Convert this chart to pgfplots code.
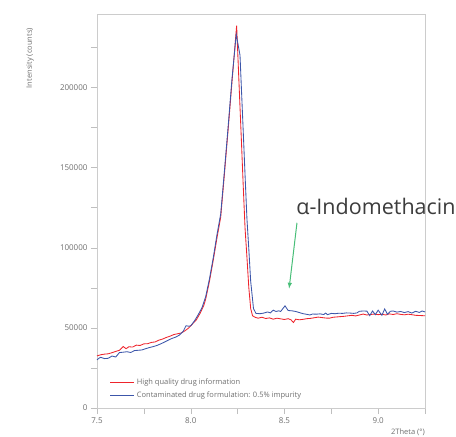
\documentclass[border=0pt]{standalone}
\usepackage{fontspec}
\setmainfont{Open Sans}
\usepackage{pgfplots}
\pgfplotsset{compat=1.18}
\definecolor{hqred}{RGB}{238,36,44}
\definecolor{cblue}{RGB}{60,86,170}
\definecolor{arrowgreen}{RGB}{72,190,120}
\definecolor{ticktext}{RGB}{110,110,110}
\definecolor{annot}{RGB}{60,60,60}
\begin{document}
\begin{tikzpicture}
\begin{axis}[
  scale only axis,
  width=328pt, height=394pt,
  xmin=7.5, xmax=9.25,
  ymin=0, ymax=245700,
  xtick={7.5,8,8.5,9},
  xticklabels={7.5,8.0,8.5,9.0},
  minor xtick={7.75,8.25,8.75,9.25},
  ytick={0,50000,100000,150000,200000},
  yticklabels={0,50000,100000,150000,200000},
  minor ytick={25000,75000,125000,175000,225000},
  scaled ticks=false,
  tick pos=left,
  tick align=outside,
  major tick length=6pt, minor tick length=6pt,
  tick style={gray!50},
  axis line style={gray!40},
  ticklabel style={font=\fontsize{8}{9}\selectfont, text=ticktext},
  clip=false,
  legend style={at={(rel axis cs:0.03,0.012)}, anchor=south west, draw=none, fill=none,
    font=\fontsize{7.5}{9}\selectfont, row sep=2pt},
  legend cell align=left,
  legend image code/.code={\draw[#1] (0pt,0pt) -- (24pt,0pt);},
]
\addplot[color=hqred, line width=0.85pt] coordinates {
(7.50,32500)(7.52,33200)(7.54,33600)(7.56,33800)(7.58,34500)(7.60,35300)
(7.62,36000)(7.64,38300)(7.655,37000)(7.67,38200)(7.69,38000)(7.71,39200)
(7.73,39000)(7.75,40000)(7.77,40100)(7.79,40900)(7.81,41200)(7.83,42300)
(7.85,43000)(7.87,44000)(7.89,44800)(7.91,45800)(7.93,46300)(7.95,46800)
(7.97,48200)(7.99,50000)(8.01,52500)(8.03,55000)(8.05,59000)(8.07,64000)
(8.08,68000)(8.10,79000)(8.12,92000)(8.14,106000)(8.16,119000)(8.18,146000)
(8.20,174000)(8.22,203000)(8.245,238500)(8.26,196000)(8.27,168000)(8.28,139000)
(8.29,112000)(8.30,94000)(8.31,75000)(8.32,62000)(8.33,57500)(8.345,56500)
(8.36,56000)(8.38,56600)(8.40,55800)(8.42,56200)(8.44,55400)(8.46,56000)
(8.48,55600)(8.50,55200)(8.52,55700)(8.535,55000)(8.548,53300)(8.56,55400)
(8.58,55000)(8.60,55300)(8.62,55700)(8.64,55900)(8.66,56300)(8.68,56700)
(8.70,56400)(8.72,56100)(8.74,56000)(8.76,56600)(8.78,56800)(8.80,57000)
(8.82,57200)(8.84,57500)(8.86,57800)(8.88,57400)(8.90,58000)(8.92,58600)
(8.94,58000)(8.96,58300)(8.98,58600)(9.00,58200)(9.02,58500)(9.04,58000)
(9.06,58700)(9.08,58300)(9.10,58800)(9.12,58400)(9.14,58100)(9.16,58500)
(9.18,58200)(9.20,57800)(9.22,57700)(9.25,57500)
};
\addlegendentry{\textcolor{ticktext}{High quality drug information}}
\addplot[color=cblue, line width=0.85pt] coordinates {
(7.50,30000)(7.51,31000)(7.52,31600)(7.54,30800)(7.56,31000)(7.58,32400)
(7.60,31800)(7.62,34600)(7.64,34800)(7.66,35100)(7.68,34600)(7.70,35800)
(7.72,36000)(7.74,36200)(7.76,37000)(7.78,37700)(7.80,38300)(7.82,39000)
(7.84,40000)(7.86,41100)(7.88,42300)(7.90,43400)(7.92,44200)(7.94,45500)
(7.96,47800)(7.975,51300)(7.99,51000)(8.00,51200)(8.02,54300)(8.04,58200)
(8.06,62500)(8.08,69500)(8.10,80500)(8.12,93500)(8.14,108000)(8.16,121000)
(8.18,148000)(8.20,176000)(8.22,205000)(8.243,233000)(8.263,220000)(8.28,173000)
(8.29,145000)(8.30,118000)(8.31,99000)(8.32,79000)(8.335,62000)(8.348,59000)
(8.37,58800)(8.39,59200)(8.41,59900)(8.425,59300)(8.44,61000)(8.455,60200)
(8.47,60600)(8.48,60200)(8.503,63700)(8.52,60800)(8.54,60600)(8.56,60200)
(8.58,59500)(8.60,58800)(8.62,58400)(8.636,58000)(8.65,58600)(8.67,58500)
(8.69,58700)(8.71,58300)(8.72,59200)(8.73,58200)(8.75,59000)(8.77,58800)
(8.79,59100)(8.81,59000)(8.83,59300)(8.85,59200)(8.87,59000)(8.887,59300)
(8.90,60300)(8.92,60500)(8.94,60400)(8.955,57600)(8.97,60500)(8.985,58200)
(9.00,61000)(9.02,57800)(9.035,61800)(9.05,58400)(9.065,60300)(9.08,60500)
(9.10,59800)(9.12,60200)(9.14,59500)(9.16,60100)(9.18,59200)(9.20,60300)
(9.22,59600)(9.235,60500)(9.25,59900)
};
\addlegendentry{\textcolor{ticktext}{Contaminated drug formulation: 0.5\% impurity}}
\draw[arrowgreen, line width=1pt, -latex] (axis cs:8.567,115500) -- (axis cs:8.525,74500);
\node[anchor=base west, font=\fontsize{21.5}{24}\selectfont, text=annot, inner sep=0pt]
  at (axis cs:8.563,120700) {α-Indomethacin};
\node[rotate=90, font=\fontsize{7.5}{9}\selectfont, text=ticktext] at ([xshift=-67pt]rel axis cs:0,0.888) {Intensity (counts)};
\node[anchor=north east, font=\fontsize{7.5}{9}\selectfont, text=ticktext, inner sep=0pt] at ([yshift=-21pt]rel axis cs:1,0) {2Theta (°)};
\end{axis}
\path (-97pt,-28pt) (359pt,408pt);
\end{tikzpicture}
\end{document}
